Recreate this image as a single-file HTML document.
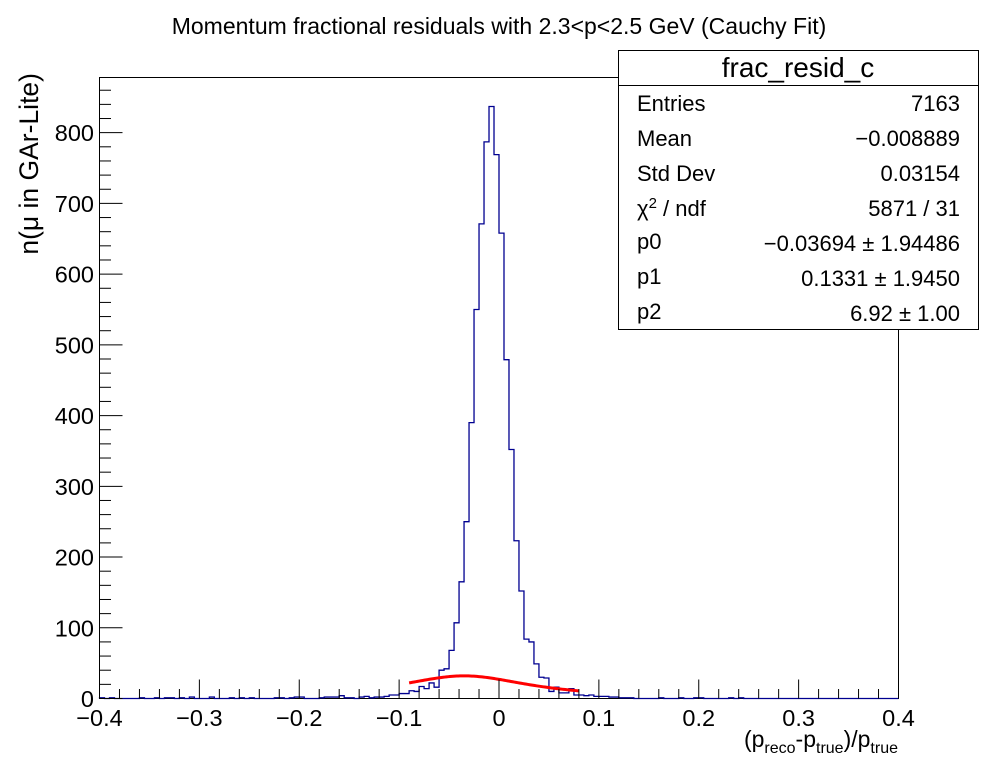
<!DOCTYPE html>
<html><head><meta charset="utf-8"><style>
html,body{margin:0;padding:0;background:#fff;}
svg{display:block;font-family:"Liberation Sans",Arial,sans-serif;}
</style></head><body>
<svg id="chart" width="998" height="776" viewBox="0 0 998 776" xmlns="http://www.w3.org/2000/svg">
<rect width="998" height="776" fill="#fff"/>
<text x="499" y="34" font-size="23" text-anchor="middle">Momentum fractional residuals with 2.3&lt;p&lt;2.5 GeV (Cauchy Fit)</text>
<g id="plot"></g>
<text transform="translate(38,73) rotate(-90)" font-size="26.5" text-anchor="end">n(μ in GAr-Lite)</text>
<text x="898" y="747" font-size="23" text-anchor="end">(p<tspan font-size="16" dy="6">reco</tspan><tspan dy="-6">-p</tspan><tspan font-size="16" dy="6">true</tspan><tspan dy="-6">)/p</tspan><tspan font-size="16" dy="6">true</tspan></text>
<g>
<rect x="618.5" y="50.5" width="360" height="279" fill="#fff" stroke="#000" stroke-width="1"/>
<line x1="618.5" y1="85.5" x2="978.5" y2="85.5" stroke="#000"/>
<text x="798" y="77" font-size="28" text-anchor="middle">frac_resid_c</text>
<g font-size="22">
<text x="637" y="111">Entries</text><text x="960" y="111" text-anchor="end">7163</text>
<text x="637" y="146">Mean</text><text x="960" y="146" text-anchor="end">−0.008889</text>
<text x="637" y="181">Std Dev</text><text x="960" y="181" text-anchor="end">0.03154</text>
<text x="637" y="216">χ<tspan font-size="15" dy="-8">2</tspan><tspan dy="8"> / ndf</tspan></text><text x="960" y="216" text-anchor="end">5871 / 31</text>
<text x="637" y="249">p0</text><text x="960" y="251" text-anchor="end">−0.03694 ± 1.94486</text>
<text x="637" y="284">p1</text><text x="960" y="286" text-anchor="end">0.1331 ± 1.9450</text>
<text x="637" y="319">p2</text><text x="960" y="321" text-anchor="end">6.92 ± 1.00</text>
</g></g>
</svg>
<script>
const binLow = -0.4, binWidth = 0.005;
const counts = [
1,0,1,0,0,0,0,0,1,0, 0,1,0,1,1,0,1,0,2,0,
0,0,2,0,0,0,1,0,1,0, 1,0,0,0,0,1,1,0,1,2,
2,0,0,0,1,2,2,2,4,1, 1,0,2,3,1,2,2,3,5,5,
7,7,11,10,17,14,22,16,40,42, 68,107,165,250,390,550,671,787,837,769,
658,479,352,223,152,84,80,49,30,29, 10,16,8,8,14,5,5,4,5,3,
3,3,2,2,1,1,1,0,0,0, 0,0,1,0,0,0,1,0,0,1,
1,0,0,0,0,0,1,0,1,0, 0,0,0,0,0,0,0,0,0,0,
0,0,0,0,0,0,0,0,0,0, 0,0,0,0,0,0,0,0,0,0];
const fitAmp = [32], fitCenter = [-0.035], fitWidth = [0.082], fitRange = [-0.09, 0.08];
const xTicks = [-0.4,-0.3,-0.2,-0.1,0,0.1,0.2,0.3,0.4];
const xTickLabels = ["−0.4","−0.3","−0.2","−0.1","0","0.1","0.2","0.3","0.4"];
const yTicks = [0,100,200,300,400,500,600,700,800];
const yTickLabels = ["0","100","200","300","400","500","600","700","800"];

const L=99.5,R=898.5,T=77.5,B=698.5, xmin=-0.4,xmax=0.4, ymax=878;
const sx=v=>L+(v-xmin)/(xmax-xmin)*(R-L);
const sy=v=>B-v/ymax*(B-T);
const NS="http://www.w3.org/2000/svg";
const g=document.getElementById('plot');
function mk(t,a){const e=document.createElementNS(NS,t);for(const k in a)e.setAttribute(k,a[k]);g.appendChild(e);return e;}

const frame=mk('rect',{x:L,y:T,width:R-L,height:B-T,fill:'none',stroke:'#000','stroke-width':1});



let d='M'+sx(binLow)+','+sy(0);
counts.forEach((c,i)=>{const x0=sx(binLow+i*binWidth),x1=sx(binLow+(i+1)*binWidth);d+=' L'+x0+','+sy(c)+' L'+x1+','+sy(c);});
d+=' L'+sx(binLow+counts.length*binWidth)+','+sy(0);
const hist=mk('path',{d:d,fill:'none',stroke:'#000090','stroke-width':1.3});



let fd='';
for(let k=0;k<=100;k++){const x=fitRange[0]+(fitRange[1]-fitRange[0])*k/100;const u=(x-fitCenter[0])/fitWidth[0];const y=fitAmp[0]/(1+u*u);fd+=(k?' L':'M')+sx(x)+','+sy(y);}
const fit=mk('path',{d:fd,fill:'none',stroke:'#ff0000','stroke-width':3});



for(let k=0;k<=40;k++){const v=xmin+k*0.02;const major=k%5===0;const t=mk('line',{x1:sx(v),x2:sx(v),y1:B,y2:B-(major?19:9.5),stroke:'#000'});

}
xTicks.forEach((v,i)=>{const t=mk('text',{x:sx(v),y:726,'font-size':23.5,'text-anchor':'middle'});t.textContent=xTickLabels[i];

});
for(let v=0;v<=ymax;v+=20){const major=v%100===0;const t=mk('line',{x1:L,x2:L+(major?23:11.5),y1:sy(v),y2:sy(v),stroke:'#000'});

}
yTicks.forEach((v,i)=>{const t=mk('text',{x:94,y:sy(v)+8.5,'font-size':23.5,'text-anchor':'end'});t.textContent=yTickLabels[i];

});
</script>
</body></html>
